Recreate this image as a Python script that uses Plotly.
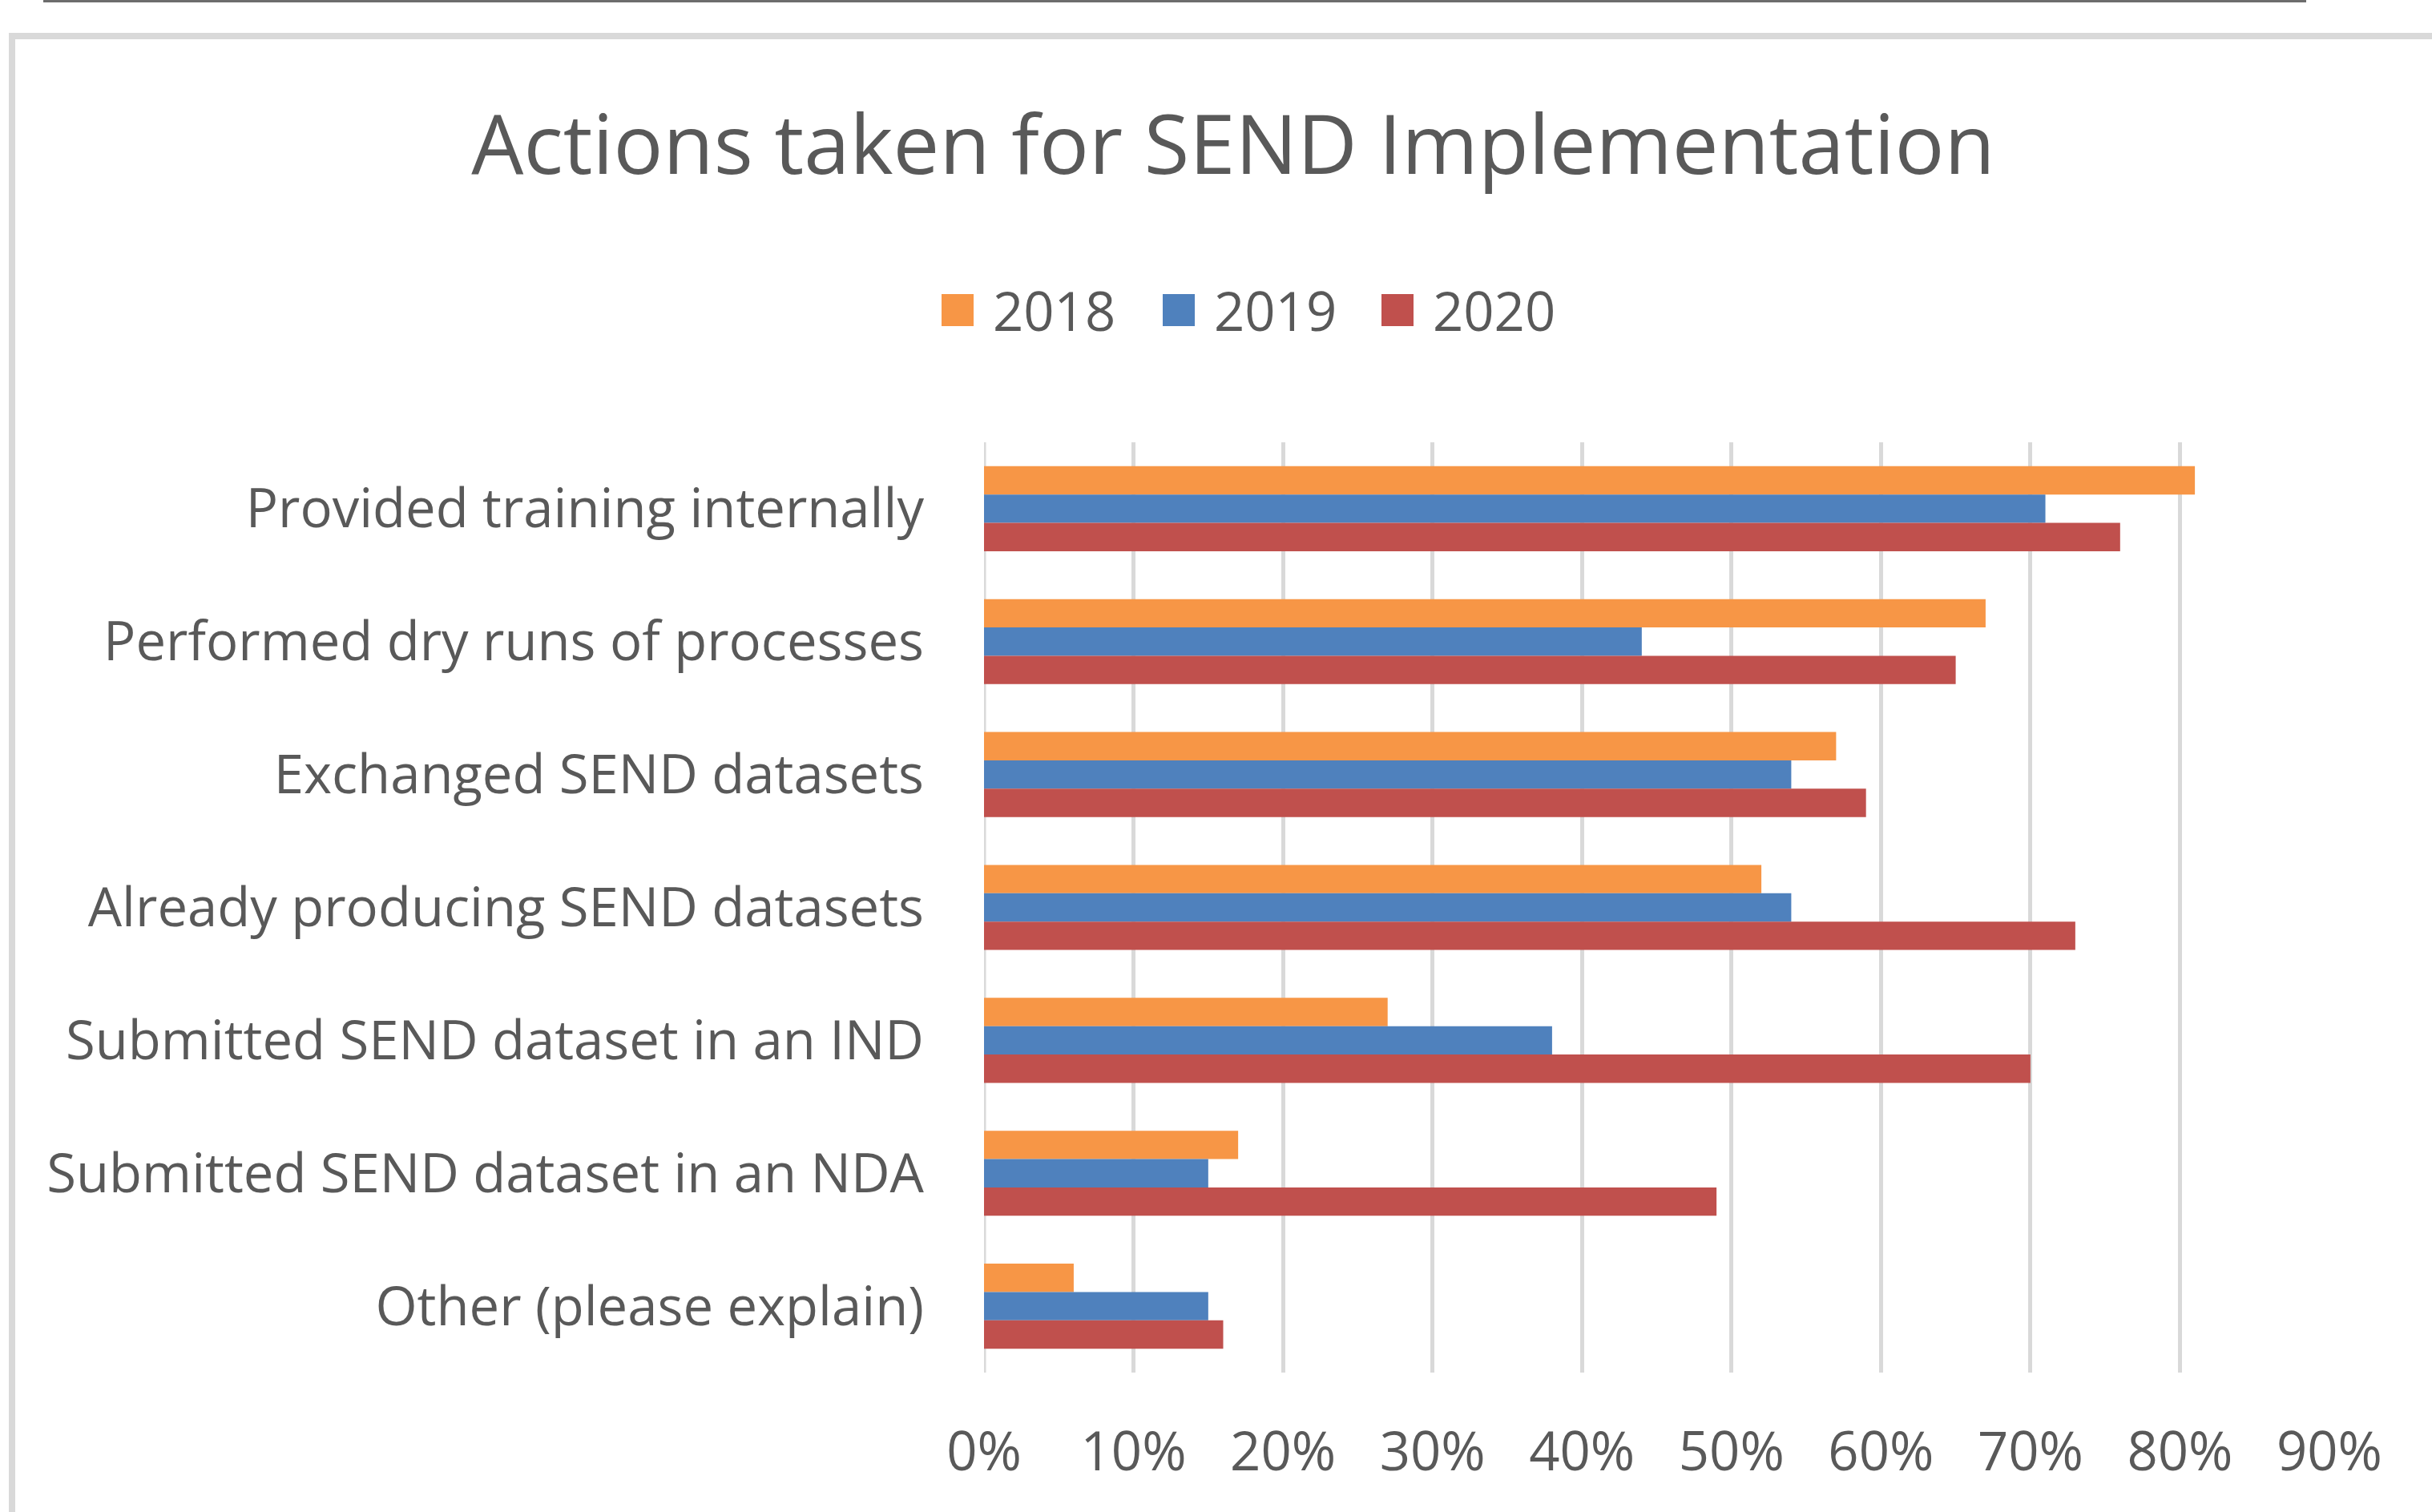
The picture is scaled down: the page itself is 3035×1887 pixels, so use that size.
import plotly.graph_objects as go

# ---- data ----
categories = [
    "Provided training internally",
    "Performed dry runs of processes",
    "Exchanged SEND datasets",
    "Already producing SEND datasets",
    "Submitted SEND dataset in an IND",
    "Submitted SEND dataset in an NDA",
    "Other (please explain)",
]
series_names = ["2018", "2019", "2020"]
values_2018 = [0.81, 0.67, 0.57, 0.52, 0.27, 0.17, 0.06]
values_2019 = [0.71, 0.44, 0.54, 0.54, 0.38, 0.15, 0.15]
values_2020 = [0.76, 0.65, 0.59, 0.73, 0.70, 0.49, 0.16]
x_tick_values = [0, 0.1, 0.2, 0.3, 0.4, 0.5, 0.6, 0.7, 0.8, 0.9]
title_text = "Actions taken for SEND Implementation"

series_values = [values_2018, values_2019, values_2020]
colors = ["#F79646", "#4F81BD", "#C0504D"]

W, H = 3035, 1887
FONT = "Open Sans"
TXT = "#595959"
GRID = "#D9D9D9"

fig = go.Figure()
for name, vals, col in zip(series_names, series_values, colors):
    fig.add_trace(go.Bar(
        y=categories, x=vals, name=name, orientation="h",
        marker=dict(color=col, line=dict(width=0)),
        showlegend=False,
    ))

# plot area in pixels
x0, x1 = 1228, 2907
ytop, ybot = 552, 1713

fig.update_layout(
    width=W, height=H,
    margin=dict(l=0, r=0, t=0, b=0, pad=0, autoexpand=False),
    paper_bgcolor="white", plot_bgcolor="white",
    barmode="group", bargap=0.36, bargroupgap=0,
    font=dict(family=FONT, color=TXT, size=67),
    title=dict(
        text=title_text, x=1539 / W, xanchor="center",
        xref="paper", yref="container", y=1 - 181 / H, yanchor="middle",
        font=dict(family=FONT, size=103, color=TXT),
    ),
    xaxis=dict(
        domain=[x0 / W, x1 / W], range=[0, 0.9],
        tickvals=x_tick_values, tickformat=".0%",
        showgrid=True, gridcolor=GRID, gridwidth=5,
        zeroline=False, showline=False, ticks="",
        ticklabelstandoff=54, automargin=False,
        tickfont=dict(family=FONT, size=67, color=TXT),
        fixedrange=True,
    ),
    yaxis=dict(
        domain=[1 - ybot / H, 1 - ytop / H],
        autorange="reversed", type="category",
        showgrid=False, zeroline=False, showline=False, ticks="",
        ticklabelstandoff=74, automargin=False,
        tickfont=dict(family=FONT, size=67, color=TXT),
        fixedrange=True,
    ),
)

# 0% gridline (value axis start), drawn below the bars
fig.add_shape(type="line", xref="x", yref="y domain",
              x0=x_tick_values[0], x1=x_tick_values[0], y0=0, y1=1,
              line=dict(color=GRID, width=5), layer="below")

# manual legend (big square swatches like the original)
leg_x = [1175, 1451, 1724]
leg_cy = 387
sq = 40
for name, col, lx in zip(series_names, colors, leg_x):
    fig.add_shape(type="rect", xref="paper", yref="paper",
                  x0=lx / W, x1=(lx + sq) / W,
                  y0=1 - (leg_cy + sq / 2) / H, y1=1 - (leg_cy - sq / 2) / H,
                  fillcolor=col, line=dict(width=0))
    fig.add_annotation(text=name, xref="paper", yref="paper",
                       x=(lx + sq + 22) / W, y=1 - leg_cy / H,
                       xanchor="left", yanchor="middle", showarrow=False,
                       font=dict(family=FONT, size=67, color=TXT))

# chart frame (left and top border) and cut-off line at the very top
fig.add_shape(type="line", xref="paper", yref="paper",
              x0=15 / W, x1=15 / W, y0=0, y1=1 - 45 / H,
              line=dict(color=GRID, width=8))
fig.add_shape(type="line", xref="paper", yref="paper",
              x0=11 / W, x1=1, y0=1 - 45 / H, y1=1 - 45 / H,
              line=dict(color=GRID, width=8))
fig.add_shape(type="line", xref="paper", yref="paper",
              x0=54 / W, x1=2878 / W, y0=1 - 1.5 / H, y1=1 - 1.5 / H,
              line=dict(color="#6D6D6D", width=3))

fig.write_html(
    "out.html",
    config={"displayModeBar": False, "staticPlot": True},
    post_script="document.body.style.margin='0';document.body.style.overflow='hidden';",
)
